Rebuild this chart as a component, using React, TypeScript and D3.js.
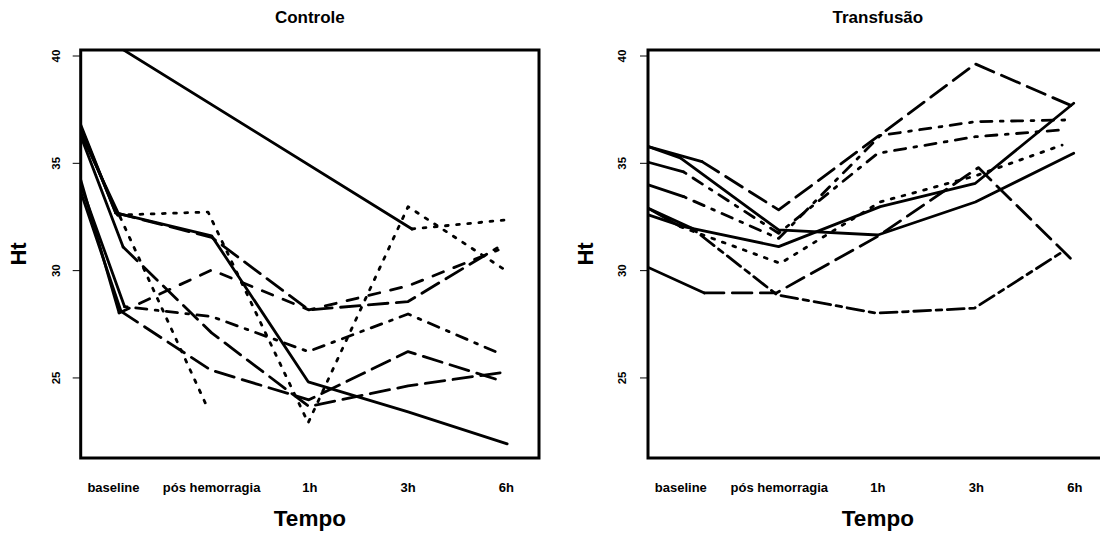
import React from "react";
import * as d3 from "d3";

// ---- data ----
const categories = ["baseline", "pós hemorragia", "1h", "3h", "6h"];
const yTicks = [25, 30, 35, 40];
const panelTitles = ["Controle", "Transfusão"];
const xTitle = "Tempo";
const yTitle = "Ht";

// Controle: time position (category units, jittered) and Ht per subject
const controleTime = [
  [0.668, 1.024, 2.0, 2.983, 4.0, 5.009],
  [0.668, 1.024, 2.0, 2.99, 4.0, 4.907],
  [0.668, 1.043, 1.964, 2.983, 4.0, 4.988],
  [0.668, 1.068, 1.954],
  [0.668, 1.099, 2.0, 2.99, 4.0, 4.937],
  [0.668, 1.058, 2.0, 2.99, 4.0, 4.917],
  [0.668, 1.114, 2.0, 2.983, 4.0, 4.887],
  [0.668, 1.078, 1.99, 2.99, 4.0, 4.917],
  [0.668, 4.04, 4.988],
];
const controleHt = [
  [36.79, 32.69, 31.62, 24.82, 23.42, 21.93],
  [36.69, 32.69, 31.55, 28.17, 28.56, 31.06],
  [36.55, 32.59, 32.73, 22.91, 32.98, 30.03],
  [36.41, 32.5, 23.65],
  [36.27, 31.1, 27.1, 23.67, 24.63, 25.24],
  [34.22, 28.03, 30.03, 28.17, 29.29, 30.96],
  [33.99, 28.32, 27.86, 26.23, 27.98, 26.23],
  [33.67, 28.1, 25.37, 23.98, 26.23, 24.91],
  [41.52, 31.94, 32.36],
];
const controleLty = ["solid", "longdash", "dotted", "dotted", "longdash", "dashed", "dotdash", "longdash", "dotted"];

// Transfusão
const transfTime = [
  [0.67, 0.995, 1.993, 3.0, 3.99, 4.988],
  [0.67, 1.215, 1.993, 3.0, 3.99, 4.988],
  [0.67, 1.028, 1.993, 3.0, 3.99, 4.852],
  [0.67, 1.028, 1.993, 3.025, 3.99, 4.92],
  [0.67, 0.995, 2.01, 3.025, 3.98, 4.87],
  [0.67, 1.028, 1.993, 3.025, 3.99, 4.988],
  [0.67, 1.239, 1.97, 3.0, 4.02, 4.954],
  [0.67, 1.114, 1.977, 2.985, 3.98, 4.852],
];
const transfHt = [
  [35.78, 35.25, 31.9, 31.66, 33.2, 35.47],
  [35.78, 35.08, 32.83, 36.25, 39.63, 37.64],
  [35.05, 34.6, 31.74, 35.47, 36.24, 36.55],
  [34.0, 33.45, 31.5, 36.3, 36.94, 37.02],
  [32.9, 32.05, 30.34, 33.2, 34.4, 35.85],
  [32.6, 32.05, 31.12, 32.98, 34.07, 37.8],
  [30.15, 28.96, 28.96, 31.6, 34.8, 30.58],
  [32.9, 31.97, 28.87, 28.02, 28.25, 30.81],
];
const transfLty = ["solid", "longdash", "dotdash", "dotdash", "dotted", "solid", "longdash", "twodash"];

// ---- layout / style ----
const W = 1100;
const H = 535;
const X_DOMAIN: [number, number] = [0.667, 5.333];
const Y_DOMAIN: [number, number] = [21.27, 40.28];
const BOX_TOP = 50;
const BOX_BOTTOM = 458;
const LW = 2.8;
const FONT = "'Liberation Sans', Arial, Helvetica, sans-serif";
const DASH: Record<string, number[] | null> = {
  solid: null,
  dashed: [4, 4],
  dotted: [1, 3],
  dotdash: [1, 3, 4, 3],
  longdash: [7, 3],
  twodash: [2, 2, 6, 2],
};

type PanelProps = {
  id: string;
  left: number;
  right: number;
  tickLabelOffset: number;
  title: string;
  times: number[][];
  hts: number[][];
  ltys: string[];
};

function Panel({ id, left, right, tickLabelOffset, title, times, hts, ltys }: PanelProps) {
  const x = d3.scaleLinear().domain(X_DOMAIN).range([left, right]);
  const y = d3.scaleLinear().domain(Y_DOMAIN).range([BOX_BOTTOM, BOX_TOP]);
  const line = d3
    .line<[number, number]>()
    .x((d) => x(d[0]))
    .y((d) => y(d[1]));
  const cx = (left + right) / 2;
  const midY = (BOX_TOP + BOX_BOTTOM) / 2;

  return (
    <g>
      <defs>
        <clipPath id={id}>
          <rect x={left} y={BOX_TOP} width={right - left} height={BOX_BOTTOM - BOX_TOP} />
        </clipPath>
      </defs>
      <text x={cx} y={23} textAnchor="middle" fontFamily={FONT} fontWeight="bold" fontSize={17}>
        {title}
      </text>
      <g clipPath={`url(#${id})`} fill="none" stroke="#000" strokeWidth={LW} strokeLinecap="round" strokeLinejoin="round">
        {times.map((ts, i) => {
          const pts: [number, number][] = ts.map((t, j) => [t, hts[i][j]]);
          const lead = pts.slice(0, 2);
          const main = pts.slice(1);
          const dash = DASH[ltys[i]];
          return (
            <g key={i}>
              <path d={line(lead) || ""} />
              {main.length > 1 && (
                <path d={line(main) || ""} strokeDasharray={dash ? dash.map((v) => v * LW).join(" ") : undefined} />
              )}
            </g>
          );
        })}
      </g>
      <rect x={left} y={BOX_TOP} width={right - left} height={BOX_BOTTOM - BOX_TOP} fill="none" stroke="#000" strokeWidth={3} />
      {yTicks.map((t) => (
        <g key={t}>
          <line x1={left - 8} x2={left} y1={y(t)} y2={y(t)} stroke="#000" strokeWidth={1} />
          <text
            transform={`translate(${left - tickLabelOffset},${y(t)}) rotate(-90)`}
            textAnchor="middle"
            fontFamily={FONT}
            fontWeight="bold"
            fontSize={11.5}
          >
            {t}
          </text>
        </g>
      ))}
      {categories.map((c, i) => (
        <text key={c} x={x(i + 1)} y={491.5} textAnchor="middle" fontFamily={FONT} fontWeight="bold" fontSize={13}>
          {c}
        </text>
      ))}
      <text x={cx} y={526} textAnchor="middle" fontFamily={FONT} fontWeight="bold" fontSize={22.5}>
        {xTitle}
      </text>
      <text
        transform={`translate(${left - 55},${midY}) rotate(-90)`}
        textAnchor="middle"
        fontFamily={FONT}
        fontWeight="bold"
        fontSize={22}
      >
        {yTitle}
      </text>
    </g>
  );
}

export default function App() {
  return (
    <svg
      width={W}
      height={H}
      viewBox={`0 0 ${W} ${H}`}
      style={{ position: "absolute", left: 0, top: 0, background: "#fff" }}
    >
      <rect x={0} y={0} width={W} height={H} fill="#fff" />
      <Panel
        id="clip-controle"
        left={80.7}
        right={539}
        tickLabelOffset={20.5}
        title={panelTitles[0]}
        times={controleTime}
        hts={controleHt}
        ltys={controleLty}
      />
      <Panel
        id="clip-transf"
        left={648}
        right={1107.7}
        tickLabelOffset={22.5}
        title={panelTitles[1]}
        times={transfTime}
        hts={transfHt}
        ltys={transfLty}
      />
    </svg>
  );
}
